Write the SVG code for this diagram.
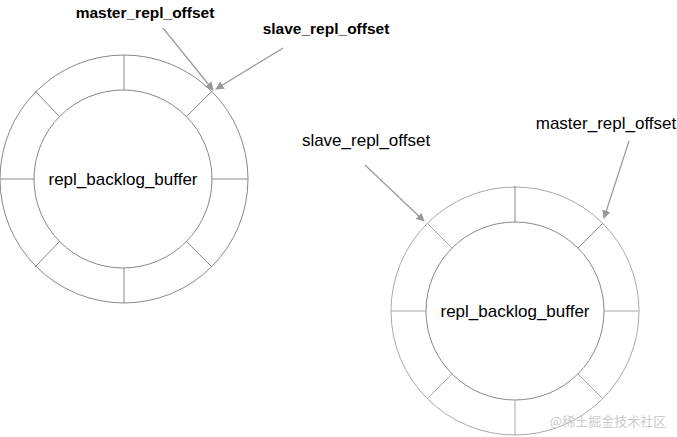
<svg xmlns="http://www.w3.org/2000/svg" width="677" height="437" viewBox="0 0 677 437">
<defs>
<marker id="ah" viewBox="0 0 10 10" refX="9" refY="5" markerWidth="7" markerHeight="7" orient="auto"><path d="M0,0L10,5L0,10z" fill="#999"/></marker>
<style>
text{font-family:"Liberation Sans",Arial,sans-serif;font-size:17px;fill:#000}
.b{font-weight:bold;font-size:15.5px}
.r1 circle,.r1 line{stroke:#888;fill:none;stroke-width:1}
.r2 circle,.r2 line{stroke:#aaa;fill:none;stroke-width:1}
.r2 .in{stroke:#888}
.a{stroke:#999;stroke-width:1.2;marker-end:url(#ah)}
</style>
</defs>
<rect width="677" height="437" fill="#fff"/>
<g id="ring1" class="r1">
<circle cx="124" cy="179" r="124"/>
<circle cx="123" cy="179" r="89"/>
<line x1="124" y1="55" x2="124" y2="90"/>
<line x1="124" y1="268" x2="124" y2="303"/>
<line x1="0" y1="179" x2="34" y2="179"/>
<line x1="212" y1="179" x2="248" y2="179"/>
<line x1="35" y1="91" x2="59" y2="116"/>
<line x1="212" y1="91" x2="187" y2="116"/>
<line x1="35" y1="267" x2="59" y2="242"/>
<line x1="212" y1="267" x2="187" y2="242"/>
<text x="123" y="185" text-anchor="middle">repl_backlog_buffer</text>
</g>
<g id="ring2" class="r2">
<circle cx="515" cy="311" r="124"/>
<circle class="in" cx="515" cy="311" r="89"/>
<line class="in" x1="515" y1="186" x2="515" y2="222"/>
<line x1="515" y1="400" x2="515" y2="436"/>
<line x1="391" y1="311" x2="426" y2="311"/>
<line x1="604" y1="311" x2="639" y2="311"/>
<line x1="427" y1="223" x2="452" y2="248"/>
<line class="in" x1="603" y1="223" x2="578" y2="248"/>
<line x1="427" y1="399" x2="452" y2="374"/>
<line x1="603" y1="399" x2="578" y2="374"/>
<text x="515" y="317" text-anchor="middle">repl_backlog_buffer</text>
</g>
<g id="labels">
<text class="b" x="145" y="18" text-anchor="middle">master_repl_offset</text>
<text class="b" x="326" y="34" text-anchor="middle">slave_repl_offset</text>
<text x="366" y="146" text-anchor="middle">slave_repl_offset</text>
<text x="606" y="129" text-anchor="middle">master_repl_offset</text>
<text x="608" y="426" text-anchor="middle" style="font-size:13px;fill:#ccc;font-family:'Noto Sans CJK SC',sans-serif">@稀土掘金技术社区</text>
</g>
<g id="connectors">
<line class="a" x1="163" y1="28" x2="213" y2="90"/>
<line class="a" x1="283" y1="48" x2="216" y2="89"/>
<line class="a" x1="365" y1="165" x2="424" y2="221"/>
<line class="a" x1="629" y1="141" x2="604" y2="218"/>
</g>
</svg>
